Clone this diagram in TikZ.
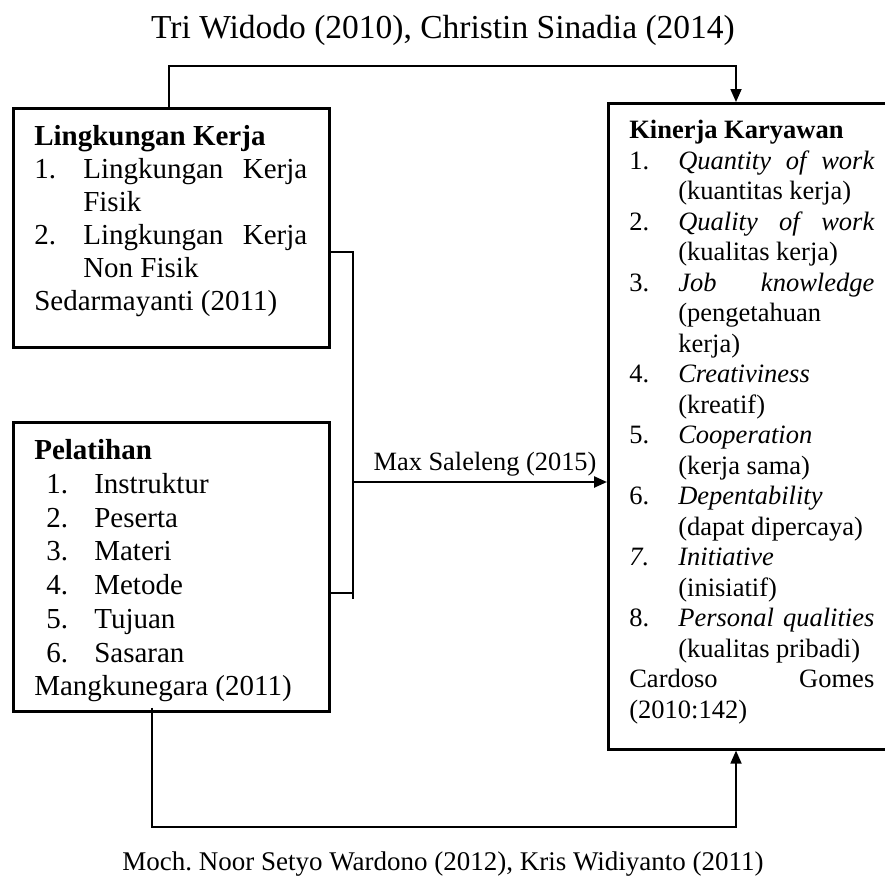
\documentclass[tikz,border=0pt]{standalone}
\usepackage{fontspec}
\setmainfont{Liberation Serif}
\usetikzlibrary{positioning,arrows.meta,calc}
\frenchspacing
\tikzset{
  boxk/.style={draw,line width=2.6pt,inner sep=0pt,anchor=north west},
  link/.style={line width=1.8pt},
  arr/.style={link,-{Triangle[length=13pt,width=11pt]}},
  cite/.style={font=\fontsize{33.5}{38}\selectfont,inner sep=0pt},
}
% list item: number + text
\newcommand{\itm}[3][49pt]{\makebox[#1][l]{#2}#3}
\newcommand{\jst}[2]{\makebox[#1][s]{#2}}
\begin{document}
\begin{tikzpicture}[x=1pt,y=-1pt]
  \useasboundingbox (0,0) rectangle (885,883);
  \clip (0,0) rectangle (885,883);
  % ---- boxes ----
  \node[boxk] (lingk) at (12,107) {\parbox[c][239pt][t]{316pt}{\fontsize{29}{33}\selectfont
    \leftskip=21pt\rightskip=22pt\parindent=0pt
    \vspace*{14pt}\strut\textbf{Lingkungan Kerja}\\
    \itm{1.}{\jst{224pt}{Lingkungan Kerja}}\\
    \itm{}{Fisik}\\
    \itm{2.}{\jst{224pt}{Lingkungan Kerja}}\\
    \itm{}{Non Fisik}\\
    Sedarmayanti (2011)}};
  \node[boxk] (pelat) at (12,421) {\parbox[c][289pt][t]{316pt}{\fontsize{29}{33.7}\selectfont
    \leftskip=21pt\parindent=0pt
    \vspace*{14pt}\strut\textbf{Pelatihan}\\
    \hspace*{12pt}\itm[48pt]{1.}{Instruktur}\\
    \hspace*{12pt}\itm[48pt]{2.}{Peserta}\\
    \hspace*{12pt}\itm[48pt]{3.}{Materi}\\
    \hspace*{12pt}\itm[48pt]{4.}{Metode}\\
    \hspace*{12pt}\itm[48pt]{5.}{Tujuan}\\
    \hspace*{12pt}\itm[48pt]{6.}{Sasaran}\\
    Mangkunegara (2011)}};
  \node[boxk] (kiner) at (607,102) {\parbox[c][646pt][t]{286pt}{\fontsize{26.5}{30.5}\selectfont
    \leftskip=21pt\parindent=0pt
    \vspace*{14pt}\strut\textbf{Kinerja Karyawan}\\
    \itm{1.}{\jst{196pt}{\itshape Quantity of work}}\\
    \itm{}{(kuantitas kerja)}\\
    \itm{2.}{\jst{196pt}{\itshape Quality of work}}\\
    \itm{}{(kualitas kerja)}\\
    \itm{3.}{\jst{196pt}{\itshape Job knowledge}}\\
    \itm{}{(pengetahuan}\\
    \itm{}{kerja)}\\
    \itm{4.}{\textit{Creativiness}}\\
    \itm{}{(kreatif)}\\
    \itm{5.}{\textit{Cooperation}}\\
    \itm{}{(kerja sama)}\\
    \itm{6.}{\textit{Depentability}}\\
    \itm{}{(dapat dipercaya)}\\
    \itm{\textit{7.}}{\textit{Initiative}}\\
    \itm{}{(inisiatif)}\\
    \itm{8.}{\jst{196pt}{\itshape Personal qualities}}\\
    \itm{}{(kualitas pribadi)}\\
    \jst{245pt}{Cardoso Gomes}\\
    (2010:142)}};
  % ---- source texts ----
  \node[cite,anchor=base] (top) at (443,38) {Tri Widodo (2010), Christin Sinadia (2014)};
  \node[cite,anchor=base,font=\fontsize{27}{32}\selectfont] (bot) at (443,870)
    {Moch. Noor Setyo Wardono (2012), Kris Widiyanto (2011)};
  % ---- connectors ----
  \coordinate (j1) at (353,252);
  \coordinate (j2) at (353,593);
  \draw[link] (lingk.east |- j1) -- (j1) -- ([yshift=-6pt]j2);
  \draw[link] (pelat.east |- j2) -- (j2);
  \draw[arr,line width=2.4pt] (353,482) coordinate (jm) -- (kiner.west |- jm)
    node[midway,above=5pt,font=\fontsize{26.4}{30}\selectfont,inner sep=0pt,xshift=5pt] (msal) {Max Saleleng (2015)};
  \draw[arr] ([xshift=-2pt]lingk.north) -- ++(0,-41) -| ([xshift=129pt]kiner.north west);
  \draw[arr] ([xshift=140pt,yshift=5pt]pelat.south west) -- ++(0,119) -| ([xshift=129pt]kiner.south west);
\end{tikzpicture}
\end{document}
